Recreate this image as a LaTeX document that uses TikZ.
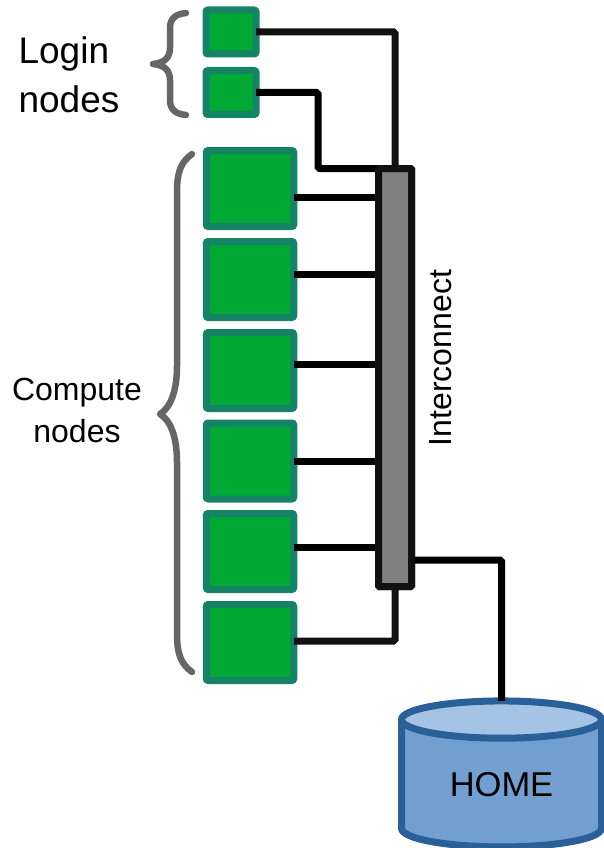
\documentclass[tikz,border=0pt]{standalone}
\usepackage{fontspec}
\setmainfont{Liberation Sans}
\usetikzlibrary{shapes.geometric}

\definecolor{nodegreen}{HTML}{00A933}
\definecolor{nodeteal}{HTML}{158466}
\definecolor{homeblue}{HTML}{729FCF}
\definecolor{hometop}{HTML}{A5C3E4}
\definecolor{homeedge}{HTML}{2A6099}
\definecolor{wiredark}{HTML}{111111}

\begin{document}
\begin{tikzpicture}[
    x=1pt, y=-1pt,
    % Login node: small green square
    loginbox/.style={rectangle, rounded corners=2pt, draw=nodeteal, fill=nodegreen,
        line width=7pt, minimum width=50pt, minimum height=44pt,
        inner sep=0pt, outer sep=0pt},
    % Compute node: large green square
    computebox/.style={loginbox, minimum width=87.5pt, minimum height=76pt},
    % Interconnect bar
    barbox/.style={rectangle, rounded corners=1pt, draw=wiredark, fill=black!50,
        line width=7pt, minimum width=33pt, minimum height=418pt,
        inner sep=0pt, outer sep=0pt},
    % Storage cylinder
    homedisk/.style={cylinder, shape border rotate=90, aspect=0.36,
        cylinder uses custom fill, cylinder body fill=homeblue, cylinder end fill=hometop,
        draw=homeedge, line width=7pt, minimum width=200pt, minimum height=146pt,
        inner sep=0pt, outer sep=0pt, font=\fontsize{34.5}{40}\selectfont},
    % Wires
    wire/.style={draw=black, line width=7pt, rounded corners=1.5pt},
    wiredk/.style={wire, draw=wiredark},
    % Curly braces
    bracket/.style={draw=black!60, line width=6.5pt, line cap=round, line join=round},
    % Text labels
    biglabel/.style={font=\fontsize{37}{49}\selectfont, align=left, inner sep=0pt},
    smalllabel/.style={font=\fontsize{32}{42}\selectfont, align=center, inner sep=0pt},
]
\useasboundingbox (0,0) rectangle (603,848);

% Login nodes
\node[loginbox] (login1) at (231,32) {};
\node[loginbox] (login2) at (231,92.5) {};

% Compute nodes
\node[computebox] (comp1) at (250,188.5) {};
\node[computebox] (comp2) at (250,279.5) {};
\node[computebox] (comp3) at (250,370.5) {};
\node[computebox] (comp4) at (250,461) {};
\node[computebox] (comp5) at (250,551.5) {};
\node[computebox] (comp6) at (250,642.5) {};

% Interconnect and storage
\node[barbox] (bar) at (395,377.5) {};
\node[homedisk] (home) at (501.5,785) {HOME};

% Wires into the bar
\draw[wiredk] (login1.east) -| (bar.north);
\draw[wire] (login2.east) -| (318,168.5) -- (bar.west |- 0,168.5);
\draw[wire] (comp1.east |- 0,197) -- (bar.west |- 0,197);
\draw[wire] (comp2.east |- 0,274) -- (bar.west |- 0,274);
\draw[wire] (comp3.east |- 0,364) -- (bar.west |- 0,364);
\draw[wire] (comp4.east |- 0,461) -- (bar.west |- 0,461);
\draw[wire] (comp5.east |- 0,547) -- (bar.west |- 0,547);
\draw[wiredk] (comp6.east |- 0,641) -| (bar.south);
\draw[wire] (bar.east |- 0,560) -| (home.north);

% Redraw the bar over the wire ends
\node[barbox] at (395,377.5) {};

% Braces
\draw[bracket] (186,13) .. controls (176,14) and (170,18) .. (170,28)
    -- (170,48) .. controls (170,57) and (165,63) .. (153,64)
    .. controls (165,65) and (170,71) .. (170,80)
    -- (170,100) .. controls (170,110) and (176,114) .. (186,115);
\draw[bracket] (192,154) .. controls (181,162) and (177,172) .. (177,192)
    -- (177,366) .. controls (177,392) and (170,408) .. (160,414)
    .. controls (170,420) and (177,436) .. (177,462)
    -- (177,634) .. controls (177,654) and (181,664) .. (192,672);

% Labels
\node[biglabel] (loginlabel) at (69,75) {Login\\nodes};
\node[smalllabel] (complabel) at (77,410) {Compute\\nodes};
\node[smalllabel, rotate=90] (barlabel) at (441,358) {Interconnect};

\end{tikzpicture}
\end{document}
